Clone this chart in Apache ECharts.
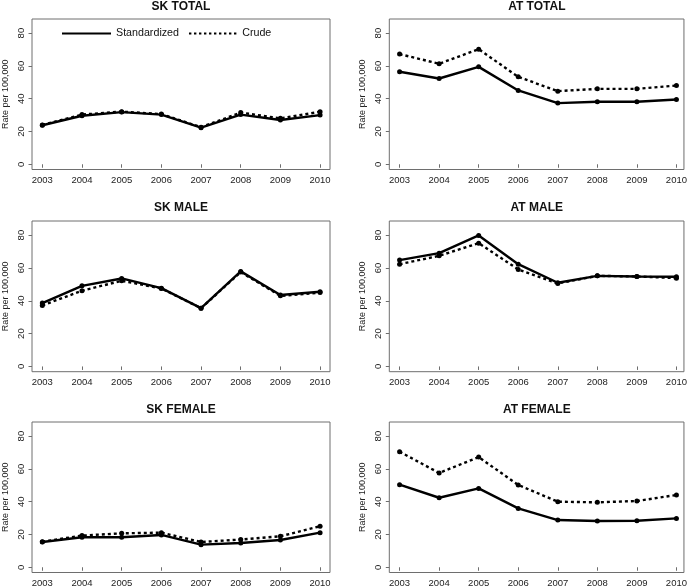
<!DOCTYPE html>
<html><head><meta charset="utf-8">
<script src="https://cdn.jsdelivr.net/npm/echarts@6/dist/echarts.min.js"></script>
<style>html,body{margin:0;padding:0;background:#fff}#c{width:690px;height:588px}</style>
</head><body><div id="c"></div>
<script>
const years = [2003, 2004, 2005, 2006, 2007, 2008, 2009, 2010];
const yTicks = [0, 20, 40, 60, 80];
const panelTitles = ['SK TOTAL', 'AT TOTAL', 'SK MALE', 'AT MALE', 'SK FEMALE', 'AT FEMALE'];
const seriesNames = ['Standardized', 'Crude'];
const yAxisName = 'Rate per 100,000';

const skTotalStd   = [23.8, 29.6, 31.8, 30.3, 22.3, 30.3, 27.0, 30.0];
const skTotalCrude = [24.0, 30.3, 32.1, 30.6, 22.6, 31.5, 28.0, 32.0];
const atTotalStd   = [56.4, 52.3, 59.4, 45.0, 37.3, 38.1, 38.1, 39.5];
const atTotalCrude = [67.2, 61.3, 70.2, 53.3, 44.6, 46.0, 46.0, 48.0];
const skMaleStd    = [38.6, 49.1, 53.6, 47.7, 35.5, 57.9, 43.5, 45.5];
const skMaleCrude  = [37.2, 46.1, 52.2, 47.5, 35.5, 57.5, 43.0, 45.0];
const atMaleStd    = [64.8, 69.0, 79.8, 62.3, 51.0, 55.2, 54.8, 54.6];
const atMaleCrude  = [62.3, 67.4, 75.1, 59.1, 50.6, 55.2, 54.8, 53.8];
const skFemaleStd  = [15.4, 18.3, 18.3, 19.7, 13.8, 14.8, 16.6, 21.1];
const skFemaleCrude= [15.6, 19.3, 20.7, 21.1, 15.4, 16.9, 18.9, 25.0];
const atFemaleStd  = [50.4, 42.4, 48.1, 35.9, 28.8, 28.2, 28.4, 29.8];
const atFemaleCrude= [70.5, 57.5, 67.2, 50.2, 40.0, 39.6, 40.4, 44.1];

const panelData = [
  [skTotalStd, skTotalCrude], [atTotalStd, atTotalCrude],
  [skMaleStd, skMaleCrude], [atMaleStd, atMaleCrude],
  [skFemaleStd, skFemaleCrude], [atFemaleStd, atFemaleCrude]
];

const cols = [
  {left: 32, width: 298, xmin: 2002.74, xmax: 2010.25},
  {left: 389.3, width: 295, xmin: 2002.74, xmax: 2010.19}
];
const rows = [
  {top: 19, height: 150.5, title: 6},
  {top: 221, height: 150.7, title: 207},
  {top: 422, height: 151, title: 409}
];

const FONT = '"Liberation Sans", Arial, sans-serif';
const grid = [], xAxis = [], yAxis = [], series = [], title = [];
panelTitles.forEach((t, i) => {
  const c = cols[i % 2], r = rows[Math.floor(i / 2)];
  grid.push({left: c.left, top: r.top, width: c.width, height: r.height,
    show: true, borderColor: '#6e6e6e', borderWidth: 1, backgroundColor: 'transparent'});
  title.push({text: t, left: c.left + c.width / 2, top: r.title - 5, textAlign: 'center',
    padding: 0, textStyle: {fontFamily: FONT, fontSize: 12, fontWeight: 'bold', color: '#111'}});
  xAxis.push({type: 'value', gridIndex: i, min: c.xmin, max: c.xmax,
    axisLine: {show: false}, splitLine: {show: false},
    axisTick: {show: true, length: 3.5, customValues: years, lineStyle: {color: '#6e6e6e'}},
    axisLabel: {customValues: years, margin: 5.5, formatter: v => String(v),
      fontFamily: FONT, fontSize: 9.5, color: '#222'}});
  yAxis.push({type: 'value', gridIndex: i, min: -3.2, max: 88.6,
    name: yAxisName, nameLocation: 'middle', nameGap: 22,
    nameTextStyle: {fontFamily: FONT, fontSize: 9, color: '#222'},
    axisLine: {show: false}, splitLine: {show: false},
    axisTick: {show: true, length: 3.5, customValues: yTicks, lineStyle: {color: '#6e6e6e'}},
    axisLabel: {customValues: yTicks, rotate: 90, margin: 6, formatter: v => String(v),
      fontFamily: FONT, fontSize: 9.5, color: '#222'}});
  panelData[i].forEach((vals, k) => {
    series.push({type: 'line', name: seriesNames[k], xAxisIndex: i, yAxisIndex: i,
      data: years.map((y, j) => [y, vals[j]]),
      symbol: 'circle', symbolSize: 5, showSymbol: true,
      itemStyle: {color: '#000'},
      lineStyle: {color: '#000', width: 2.4, type: k === 0 ? 'solid' : [3, 3], cap: 'butt'},
      z: k === 0 ? 3 : 2, animation: false, silent: true});
  });
});

const dotted = 'path://' + [0,5,10,15,20,25,30,35,40,45].map(x => `M${x},0h2.4v2h-2.4z`).join(' ');
const chart = echarts.init(document.getElementById('c'), null, {renderer: 'canvas'});
chart.setOption({
  animation: false,
  title, grid, xAxis, yAxis, series,
  legend: {left: 57, top: 23, itemWidth: 49, itemHeight: 2, itemGap: 10,
    selectedMode: false,
    textStyle: {fontFamily: FONT, fontSize: 10.7, color: '#111'},
    data: [
      {name: seriesNames[0], icon: 'rect', itemStyle: {color: '#000'}},
      {name: seriesNames[1], icon: dotted, itemStyle: {color: '#000'}}
    ]}
});
</script></body></html>
